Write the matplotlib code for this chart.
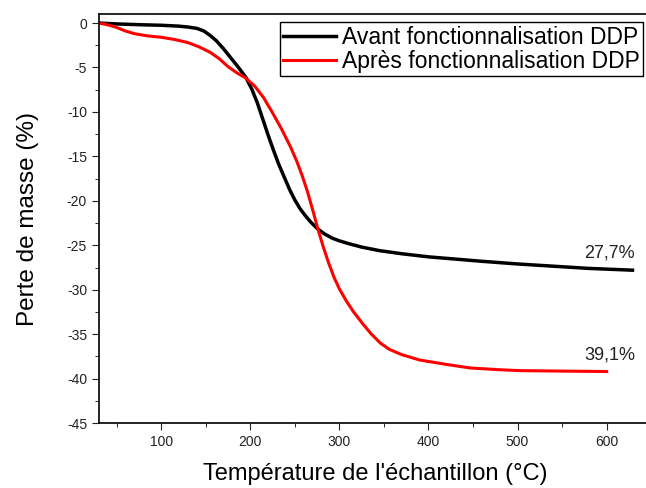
import matplotlib.pyplot as plt
import numpy as np

plt.rcParams['font.family'] = ['Liberation Sans', 'DejaVu Sans']
plt.rcParams['axes.unicode_minus'] = False

t_avant = [30, 50, 80, 100, 120, 130, 140, 148, 155, 162, 170, 178, 186, 195, 202, 208,
           214, 220, 226, 232, 238, 244, 250, 256, 262, 268, 275, 283, 292, 300, 310,
           325, 345, 370, 400, 430, 460, 500, 540, 580, 629]
m_avant = [0.0, -0.1, -0.2, -0.25, -0.35, -0.45, -0.6, -0.9, -1.4, -2.0, -2.9, -3.9,
           -4.9, -6.1, -7.5, -9.0, -10.8, -12.6, -14.3, -15.9, -17.3, -18.7, -19.9,
           -20.9, -21.7, -22.4, -23.1, -23.7, -24.2, -24.5, -24.8, -25.2, -25.6, -25.95,
           -26.3, -26.55, -26.8, -27.1, -27.35, -27.6, -27.8]

t_apres = [30, 40, 50, 60, 70, 85, 100, 115, 130, 143, 155, 165, 175, 185, 195, 205,
           215, 225, 235, 245, 252, 258, 264, 270, 276, 282, 288, 294, 300, 308, 316,
           326, 336, 346, 356, 370, 390, 420, 447, 480, 503, 550, 600]
m_apres = [0.0, -0.2, -0.5, -0.9, -1.2, -1.45, -1.6, -1.85, -2.2, -2.7, -3.3, -4.0,
           -4.9, -5.6, -6.2, -7.1, -8.4, -10.1, -11.9, -13.9, -15.5, -17.1, -18.9, -21.0,
           -23.2, -25.2, -27.0, -28.6, -29.9, -31.3, -32.5, -33.8, -35.0, -36.0, -36.7,
           -37.3, -37.9, -38.4, -38.8, -39.0, -39.1, -39.15, -39.2]

fig = plt.figure(figsize=(6.46, 4.88), dpi=100)
ax = fig.add_axes([0.153, 0.133, 0.855, 0.838])

ax.plot(t_avant, m_avant, color='black', lw=2.5, label='Avant fonctionnalisation DDP')
ax.plot(t_apres, m_apres, color='#ff0000', lw=2.2, label='Après fonctionnalisation DDP')

ax.text(575, -25.9, '27,7%', fontsize=13, va='center', color='#222222')
ax.text(575, -37.3, '39,1%', fontsize=13, va='center', color='#222222')

ax.set_xlim(30, 650)
ax.set_ylim(-45, 1)
ax.set_xticks(np.arange(100, 601, 100))
ax.set_xticks(np.arange(50, 651, 50), minor=True)
ax.set_yticks(np.arange(-45, 1, 5))
ax.set_yticks(np.arange(-45, 1, 2.5), minor=True)
ax.tick_params(direction='out', labelsize=10, length=5, colors='#222222')
ax.tick_params(which='minor', direction='out', length=3)
ax.spines['right'].set_visible(False)
for s in ax.spines.values():
    s.set_linewidth(1.2)

ax.set_xlabel("Température de l'échantillon (°C)", fontsize=17, labelpad=10)
ax.set_ylabel('Perte de masse (%)', fontsize=17.5, labelpad=20)

leg = ax.legend(loc='upper left', bbox_to_anchor=(0.328, 0.98), fontsize=16.5,
                frameon=True, fancybox=False, edgecolor='black', framealpha=1,
                handlelength=2.3, borderpad=0.15, labelspacing=0.05,
                handletextpad=0.25, borderaxespad=0)
leg.get_frame().set_linewidth(1.0)

plt.savefig('out.png', dpi=100)
